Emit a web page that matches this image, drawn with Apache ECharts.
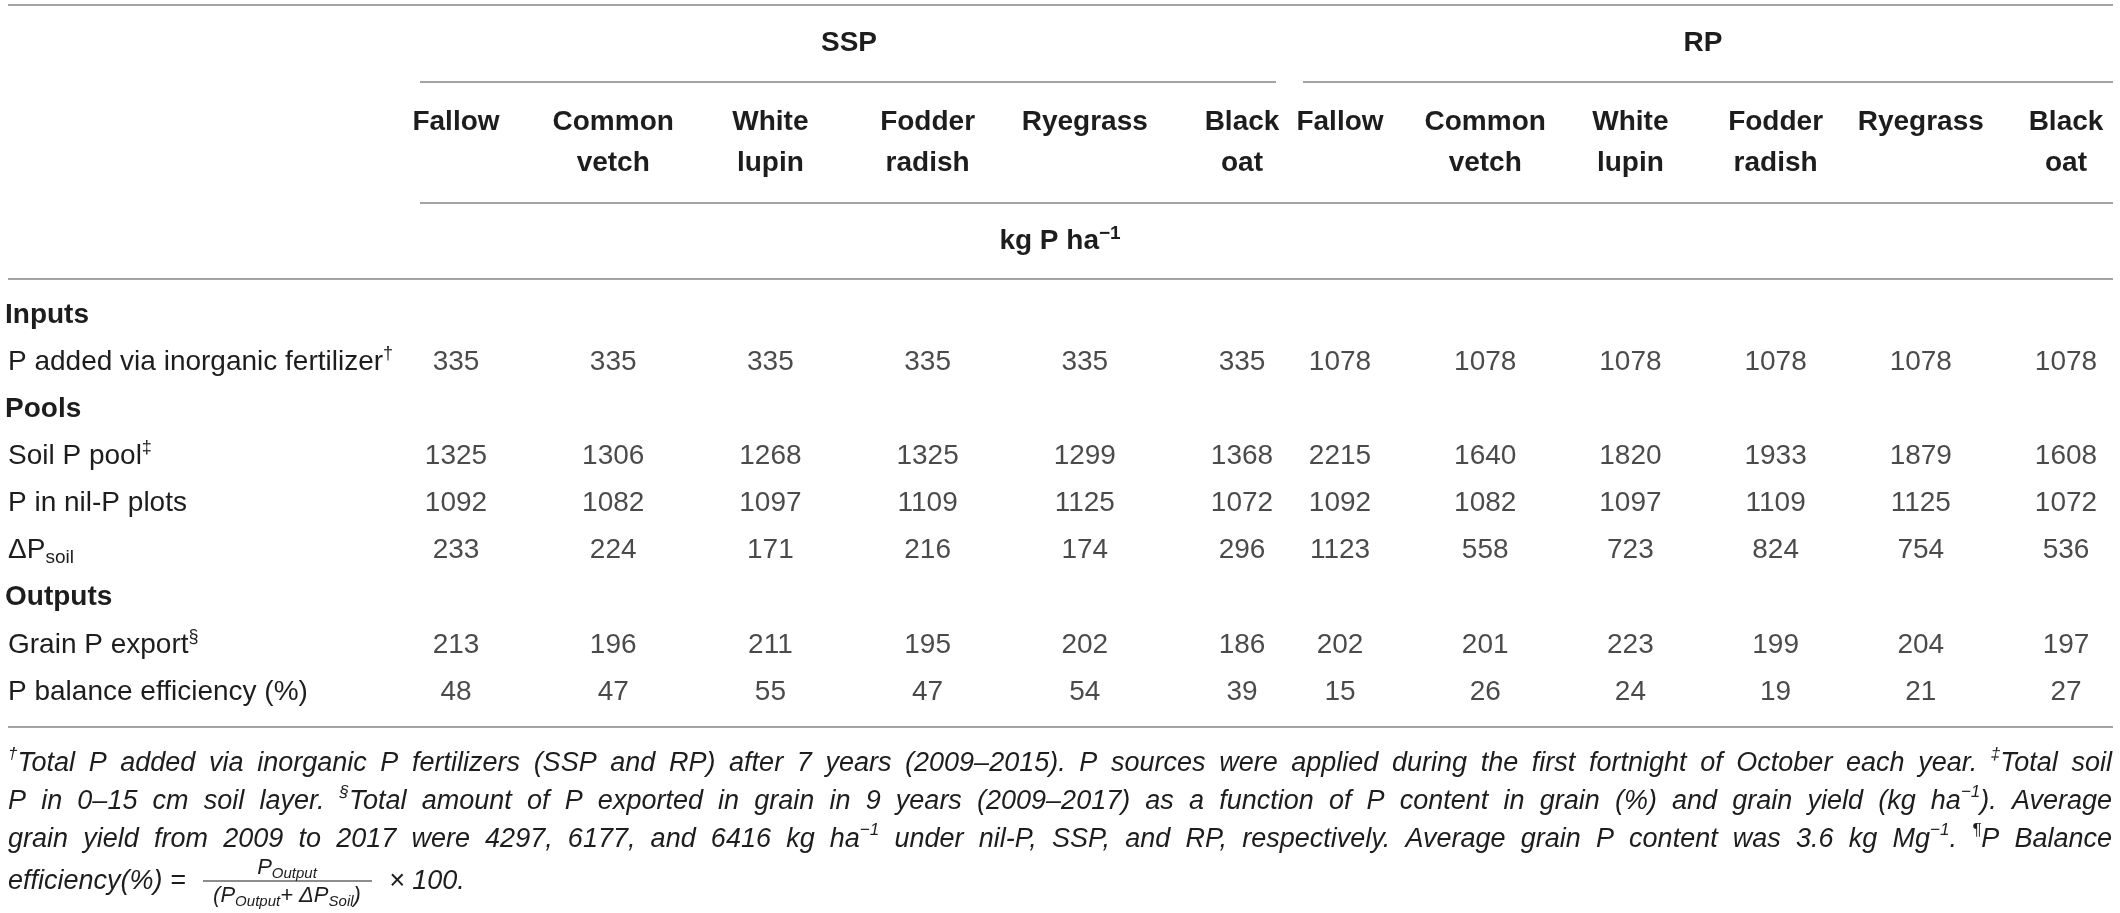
<!DOCTYPE html>
<html>
<head>
<meta charset="utf-8">
<script src="https://cdn.jsdelivr.net/npm/echarts@6/dist/echarts.min.js"></script>
<style>
html, body { margin: 0; padding: 0; background: #fff; }
#table { width: 2120px; height: 913px; }
</style>
</head>
<body>
<div id="table"></div>
<script>
// column and row headers
var crops = ['Fallow', 'Common\nvetch', 'White\nlupin', 'Fodder\nradish', 'Ryegrass', 'Black\noat'];
var sources = ['SSP', 'RP'];
var rows = ['Inputs', 'P added via inorganic fertilizer', 'Pools', 'Soil P pool', 'P in nil-P plots',
    'ΔPsoil', 'Outputs', 'Grain P export', 'P balance efficiency (%)'];

// kg P ha-1, one value per crop
var pAddedSSP = [335, 335, 335, 335, 335, 335];
var pAddedRP = [1078, 1078, 1078, 1078, 1078, 1078];
var soilPoolSSP = [1325, 1306, 1268, 1325, 1299, 1368];
var soilPoolRP = [2215, 1640, 1820, 1933, 1879, 1608];
var nilPSSP = [1092, 1082, 1097, 1109, 1125, 1072];
var nilPRP = [1092, 1082, 1097, 1109, 1125, 1072];
var deltaSSP = [233, 224, 171, 216, 174, 296];
var deltaRP = [1123, 558, 723, 824, 754, 536];
var grainSSP = [213, 196, 211, 195, 202, 186];
var grainRP = [202, 201, 223, 199, 204, 197];
// %
var effSSP = [48, 47, 55, 47, 54, 39];
var effRP = [15, 26, 24, 19, 21, 27];

// footnote lines as they break in the table
var notes = [
    '{sup|†}Total P added via inorganic P fertilizers (SSP and RP) after 7 years (2009–2015). P sources were applied during the first fortnight of October each year. {sup|‡}Total soil',
    'P in 0–15 cm soil layer. {sup|§}Total amount of P exported in grain in 9 years (2009–2017) as a function of P content in grain (%) and grain yield (kg ha{sup|−1}). Average',
    'grain yield from 2009 to 2017 were 4297, 6177, and 6416 kg ha{sup|−1} under nil-P, SSP, and RP, respectively. Average grain P content was 3.6 kg Mg{sup|−1}. {sup|¶}P Balance'
];

var FONT = "'Liberation Sans', Arial, Helvetica, sans-serif";
var INK = '#1d1d1d';
var RULE = '#a3a3a3';

function makeCells(rowsData) {
    var cells = [];
    Object.keys(rowsData).forEach(function (r) {
        rowsData[r].forEach(function (v, c) {
            cells.push([c, +r, v]);
        });
    });
    return cells;
}

var ssp = makeCells({1: pAddedSSP, 3: soilPoolSSP, 4: nilPSSP, 5: deltaSSP, 7: grainSSP, 8: effSSP});
var rp = makeCells({1: pAddedRP, 3: soilPoolRP, 4: nilPRP, 5: deltaRP, 7: grainRP, 8: effRP});

function rowLabel(name) {
    if (name === 'Inputs' || name === 'Pools' || name === 'Outputs') return '{b|' + name + '}';
    if (name === 'ΔPsoil') return 'ΔP{sub|soil}';
    if (name === 'P added via inorganic fertilizer') return name + '{sup|†}';
    if (name === 'Soil P pool') return name + '{sup|‡}';
    if (name === 'Grain P export') return name + '{sup|§}';
    return name;
}

function xAxisFor(i, name) {
    return {
        type: 'category',
        gridIndex: i,
        position: 'top',
        data: crops,
        boundaryGap: false,
        name: name,
        nameLocation: 'middle',
        nameGap: 272,
        nameTextStyle: {fontFamily: FONT, fontSize: 28, fontWeight: 'bold', color: INK, verticalAlign: 'middle'},
        axisLine: {show: false},
        axisTick: {show: false},
        splitLine: {show: false},
        axisLabel: {
            interval: 0,
            margin: 213,
            verticalAlign: 'top',
            fontFamily: FONT,
            fontSize: 28,
            fontWeight: 'bold',
            lineHeight: 41,
            color: INK
        }
    };
}

function yAxisFor(i, showLabels, margin) {
    return {
        type: 'category',
        gridIndex: i,
        data: rows,
        inverse: true,
        boundaryGap: false,
        axisLine: {show: false},
        axisTick: {show: false},
        splitLine: {show: false},
        axisLabel: {
            show: showLabels,
            interval: 0,
            align: 'left',
            margin: margin,
            fontFamily: FONT,
            fontSize: 28,
            lineHeight: 34,
            color: INK,
            formatter: rowLabel,
            rich: {
                b: {fontFamily: FONT, fontSize: 28, fontWeight: 'bold', color: INK, padding: [0, 0, 0, -3]},
                sup: {fontFamily: FONT, fontSize: 18, color: INK, verticalAlign: 'top', lineHeight: 18},
                sub: {fontFamily: FONT, fontSize: 19, color: INK, verticalAlign: 'bottom', lineHeight: 19}
            }
        }
    };
}

function cellSeries(i, data) {
    return {
        type: 'scatter',
        xAxisIndex: i,
        yAxisIndex: i,
        data: data,
        symbolSize: 1,
        silent: true,
        itemStyle: {color: 'rgba(0,0,0,0)'},
        label: {
            show: true,
            position: 'inside',
            fontFamily: FONT,
            fontSize: 28,
            color: INK,
            formatter: function (p) { return p.value[2]; }
        }
    };
}

function hline(x1, x2, y) {
    return {type: 'line', silent: true, shape: {x1: x1, y1: y, x2: x2, y2: y},
        style: {stroke: RULE, lineWidth: 2}};
}

function noteStyle(extra) {
    var style = {
        fontFamily: FONT, fontSize: 27, fontStyle: 'italic', fill: INK,
        align: 'left', verticalAlign: 'middle', lineHeight: 34,
        rich: {
            sup: {fontFamily: FONT, fontSize: 17, fontStyle: 'italic', fill: INK, verticalAlign: 'top', lineHeight: 17},
            sub: {fontFamily: FONT, fontSize: 15, fontStyle: 'italic', fill: INK, verticalAlign: 'bottom', lineHeight: 15}
        }
    };
    if (extra) Object.keys(extra).forEach(function (k) { style[k] = extra[k]; });
    return style;
}

function note(x, y, text, extra) {
    var style = noteStyle(extra);
    style.text = text;
    style.x = x;
    style.y = y;
    return {type: 'text', silent: true, style: style};
}

// justified footnote line: spaces become spacer fragments sized to fill the width
function justifiedNote(x, y, text, width) {
    var words = text.split(' ');
    var joined = words.join('{sp| }');
    var style = noteStyle();
    var gap = null;
    try {
        var probeStyle = noteStyle();
        probeStyle.text = joined;
        probeStyle.rich.sp = {fontFamily: FONT, fontSize: 27, width: 1};
        var probe = new echarts.graphic.Text({style: probeStyle});
        var w = probe.getBoundingRect().width;
        if (w > 0 && w < width) gap = 1 + (width - w) / (words.length - 1);
    } catch (e) {
        gap = null;
    }
    if (gap === null) return note(x, y, text);
    style.rich.sp = {fontFamily: FONT, fontSize: 27, width: gap};
    style.text = joined;
    style.x = x;
    style.y = y;
    return {type: 'text', silent: true, style: style};
}

var option = {
    backgroundColor: '#fff',
    animation: false,
    grid: [
        {left: 456, right: 878, top: 315, bottom: 913 - 692, containLabel: false, outerBoundsMode: 'none'},
        {left: 1340, right: 54, top: 315, bottom: 913 - 692, containLabel: false, outerBoundsMode: 'none'}
    ],
    xAxis: [xAxisFor(0, sources[0]), xAxisFor(1, sources[1])],
    yAxis: [yAxisFor(0, true, 448), yAxisFor(1, false, 0)],
    series: [cellSeries(0, ssp), cellSeries(1, rp)],
    graphic: [
        hline(8, 2113, 5),
        hline(420, 1276, 82),
        hline(1303, 2113, 82),
        hline(420, 2113, 203),
        hline(8, 2113, 279),
        hline(8, 2113, 727),
        {
            type: 'text', silent: true,
            style: {
                text: 'kg P ha{sup|−1}', x: 1060, y: 241,
                fontFamily: FONT, fontSize: 28, fontWeight: 'bold', fill: INK,
                align: 'center', verticalAlign: 'middle', lineHeight: 34,
                rich: {sup: {fontFamily: FONT, fontSize: 19, fontWeight: 'bold', fill: INK, verticalAlign: 'top', lineHeight: 19}}
            }
        },
        justifiedNote(8, 763, notes[0], 2104),
        justifiedNote(8, 801, notes[1], 2104),
        justifiedNote(8, 839, notes[2], 2104),
        note(8, 881, 'efficiency(%) ='),
        note(287, 868, 'P{sub|Output}', {fontSize: 22, lineHeight: 26, align: 'center'}),
        {type: 'line', silent: true, shape: {x1: 203, y1: 881, x2: 372, y2: 881}, style: {stroke: INK, lineWidth: 1.2}},
        note(287, 896, '(P{sub|Output}+ ΔP{sub|Soil})', {fontSize: 22, lineHeight: 26, align: 'center'}),
        note(389, 881, '× 100.')
    ]
};

var chart = echarts.init(document.getElementById('table'), null, {renderer: 'canvas'});
chart.setOption(option);
</script>
</body>
</html>
